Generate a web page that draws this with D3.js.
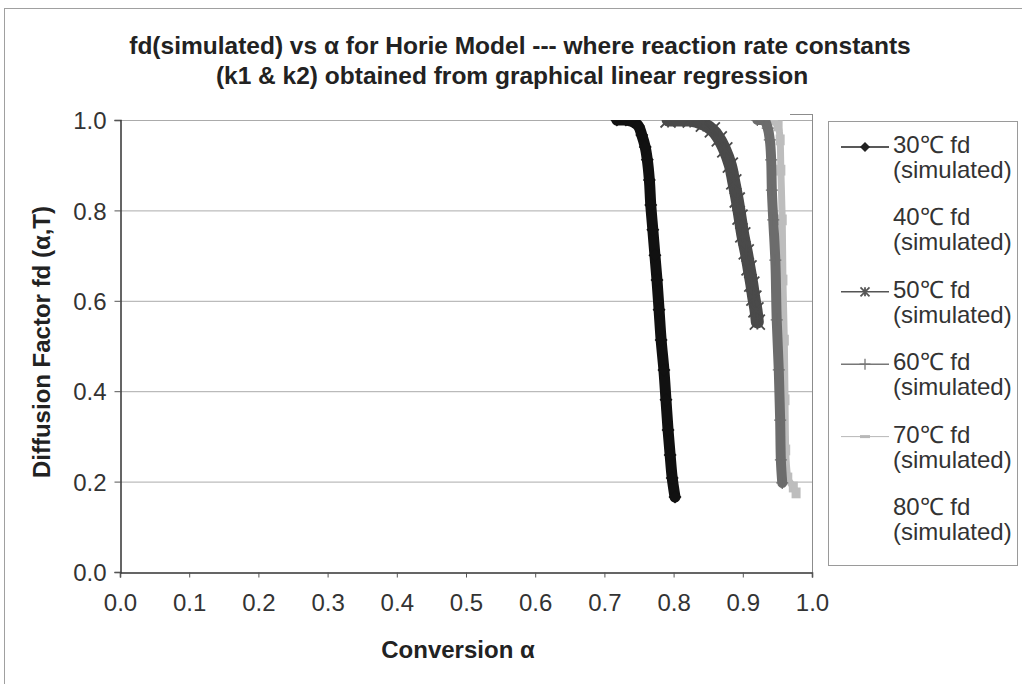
<!DOCTYPE html>
<html><head><meta charset="utf-8">
<script src="https://cdn.jsdelivr.net/npm/d3@7"></script>
<style>
html,body{margin:0;padding:0;background:#fff;}
text{font-family:"Liberation Sans",Arial,sans-serif;}
</style></head><body>
<svg id="c" width="1022" height="684"></svg>
<script>
// ---- data ----
const titleLines = ["fd(simulated) vs \u03b1 for Horie Model --- where reaction rate constants",
                    "(k1 & k2) obtained from graphical linear regression"];
const xTicks = [0.0,0.1,0.2,0.3,0.4,0.5,0.6,0.7,0.8,0.9,1.0];
const yTicks = [0.0,0.2,0.4,0.6,0.8,1.0];
const seriesNames = ["30\u2103 fd", "40\u2103 fd", "50\u2103 fd", "60\u2103 fd", "70\u2103 fd", "80\u2103 fd"];

const alpha30 = [0.718,0.731,0.741,0.749,0.754,0.759,0.762,0.765,0.767,0.770,0.773,0.776,0.779,0.782,0.786,0.789,0.792,0.795,0.798,0.802];
const fd30    = [1.000,1.000,0.996,0.987,0.967,0.940,0.912,0.867,0.812,0.757,0.701,0.646,0.580,0.513,0.447,0.381,0.314,0.259,0.208,0.166];

const alpha40 = [];
const fd40    = [];

const alpha50 = [0.792,0.824,0.843,0.856,0.866,0.874,0.882,0.887,0.892,0.896,0.900,0.905,0.909,0.913,0.916,0.919,0.921];
const fd50    = [1.000,1.000,0.991,0.978,0.958,0.934,0.900,0.863,0.823,0.785,0.746,0.708,0.673,0.637,0.606,0.580,0.553];

const alpha60 = [0.921,0.931,0.936,0.939,0.941,0.942,0.944,0.947,0.949,0.952,0.954,0.955,0.957];
const fd60    = [1.000,1.000,0.982,0.956,0.912,0.845,0.779,0.690,0.558,0.447,0.336,0.248,0.197];

const alpha70 = [0.942,0.951,0.954,0.955,0.957,0.958,0.960,0.961,0.962,0.965,0.973,0.977];
const fd70    = [1.000,0.987,0.956,0.889,0.779,0.646,0.513,0.381,0.270,0.208,0.188,0.175];

const alpha80 = [];
const fd80    = [];

// ---- layout ----
const svg = d3.select("#c");
const L = 120, R = 812, T = 120, B = 572;
const x = d3.scaleLinear().domain([0,1]).range([L,R]);
const y = d3.scaleLinear().domain([0,1]).range([B,T]);

// outer chart frame
svg.append("rect").attr("x",4.5).attr("y",8.5).attr("width",1040).attr("height",700)
  .attr("fill","none").attr("stroke","#a0a0a0").attr("stroke-width",1);

// title
svg.append("text").attr("x",520).attr("y",54).attr("text-anchor","middle")
  .attr("font-size",24.5).attr("font-weight","bold").attr("fill","#222").text(titleLines[0]);
svg.append("text").attr("x",512).attr("y",84).attr("text-anchor","middle")
  .attr("font-size",24.5).attr("font-weight","bold").attr("fill","#222").text(titleLines[1]);

// gridlines
svg.append("g").selectAll("line").data(yTicks.filter(d=>d>0)).join("line")
  .attr("x1",L).attr("x2",R).attr("y1",d=>y(d)+0.5).attr("y2",d=>y(d)+0.5)
  .attr("stroke","#ababab").attr("stroke-width",1);
// right border of plot area
svg.append("line").attr("x1",R+0.5).attr("x2",R+0.5).attr("y1",T-6).attr("y2",B)
  .attr("stroke","#8c8c8c").attr("stroke-width",1);
svg.append("line").attr("x1",R-22).attr("x2",R+0.5).attr("y1",T-5.5).attr("y2",T-5.5)
  .attr("stroke","#8c8c8c").attr("stroke-width",1);

// axes
const gx = svg.append("g").attr("transform",`translate(0,${B+0.5})`)
  .call(d3.axisBottom(x).tickValues(xTicks).tickFormat(d3.format(".1f")).tickSize(5).tickPadding(16));
const gy = svg.append("g").attr("transform",`translate(${L+0.5},0)`)
  .call(d3.axisLeft(y).tickValues(yTicks).tickFormat(d3.format(".1f")).tickSize(6).tickPadding(8));
[gx,gy].forEach(g=>{
  g.select(".domain").attr("stroke","#333").attr("stroke-width",1.5);
  g.selectAll(".tick line").attr("stroke","#555");
  g.selectAll(".tick text").attr("font-size",24).attr("fill","#333")
   .attr("font-family","'Liberation Sans',Arial,sans-serif");
});
gy.selectAll(".tick text").attr("dy","0.36em");

// axis titles
svg.append("text").attr("x",458).attr("y",658).attr("text-anchor","middle")
  .attr("font-size",24).attr("font-weight","bold").attr("fill","#222").text("Conversion \u03b1");
svg.append("text").attr("transform","translate(50,342) rotate(-90)").attr("text-anchor","middle")
  .attr("font-size",24).attr("font-weight","bold").attr("fill","#222").text("Diffusion Factor fd (\u03b1,T)");

// clip
svg.append("clipPath").attr("id","pc").append("rect").attr("x",L).attr("y",T).attr("width",R-L).attr("height",B-T);
const plot = svg.append("g").attr("clip-path","url(#pc)");

const series = [
  {name:seriesNames[0], a:alpha30, f:fd30, color:"#111111", w:11, marker:"diamond"},
  {name:seriesNames[1], a:alpha40, f:fd40, color:"none",    w:0,  marker:"none"},
  {name:seriesNames[2], a:alpha50, f:fd50, color:"#4a4a4a", w:13, marker:"star"},
  {name:seriesNames[3], a:alpha60, f:fd60, color:"#6c6c6c", w:10, marker:"plus"},
  {name:seriesNames[4], a:alpha70, f:fd70, color:"#bdbdbd", w:7,  marker:"dash"},
  {name:seriesNames[5], a:alpha80, f:fd80, color:"none",    w:0,  marker:"none"}
];

const line = d3.line().x(d=>x(d[0])).y(d=>y(d[1])).curve(d3.curveMonotoneY);
function drawMarker(g, type, cx, cy, color, s) {
  if (type==="diamond") {
    g.append("path").attr("d",d3.symbol(d3.symbolSquare, s*s*0.5)()).attr("transform",`translate(${cx},${cy}) rotate(45)`).attr("fill",color);
  } else if (type==="star") {
    const r = s/2;
    g.append("path").attr("d",`M${cx-r},${cy-r}L${cx+r},${cy+r}M${cx-r},${cy+r}L${cx+r},${cy-r}M${cx},${cy-r}L${cx},${cy+r}`)
      .attr("stroke",color).attr("stroke-width",1.8).attr("fill","none");
  } else if (type==="plus") {
    const r = s/2;
    g.append("path").attr("d",`M${cx},${cy-r}L${cx},${cy+r}M${cx-r},${cy}L${cx+r},${cy}`)
      .attr("stroke",color).attr("stroke-width",1.3).attr("fill","none");
  } else if (type==="dash") {
    g.append("rect").attr("x",cx-s/2).attr("y",cy-s*0.6).attr("width",s).attr("height",s*1.2).attr("fill",color);
  }
}

// draw order: 70 below 60 so the darker band stays visible
const drawOrder = [0,2,4,3];
drawOrder.forEach(i=>{
  const s = series[i];
  const pts = s.a.map((v,k)=>[v,s.f[k]]);
  if (!pts.length) return;
  plot.append("path").attr("d",line(pts)).attr("fill","none").attr("stroke",s.color)
    .attr("stroke-width",s.w).attr("stroke-linejoin","round").attr("stroke-linecap","round");
  const mg = plot.append("g");
  pts.forEach(p=>drawMarker(mg, s.marker, x(p[0]), y(p[1]), s.color, s.w+2));
});

// legend
svg.append("rect").attr("x",828.5).attr("y",121.5).attr("width",189).attr("height",444)
  .attr("fill","#fff").attr("stroke","#9a9a9a").attr("stroke-width",1);
const legendColor = ["#222","none","#555","#777","#b8b8b8","none"];
series.forEach((s,i)=>{
  const by = 153 + i*72.4;
  const ly = by - 6;
  const g = svg.append("g");
  if (legendColor[i] !== "none") {
    g.append("line").attr("x1",841).attr("x2",889).attr("y1",ly).attr("y2",ly)
      .attr("stroke",legendColor[i]).attr("stroke-width",i===4?1:1.6);
    if (s.marker==="diamond") drawMarker(g,"diamond",865,ly,legendColor[i],10);
    if (s.marker==="star") drawMarker(g,"star",865,ly,legendColor[i],9);
    if (s.marker==="plus") drawMarker(g,"plus",865,ly,legendColor[i],11);
    if (s.marker==="dash") g.append("rect").attr("x",860).attr("y",ly-1.5).attr("width",10).attr("height",3).attr("fill",legendColor[i]);
  }
  g.append("text").attr("x",893).attr("y",by).attr("font-size",24).attr("fill","#333").text(s.name);
  g.append("text").attr("x",893).attr("y",by+25).attr("font-size",24).attr("fill","#333").text("(simulated)");
});
</script>
</body></html>
